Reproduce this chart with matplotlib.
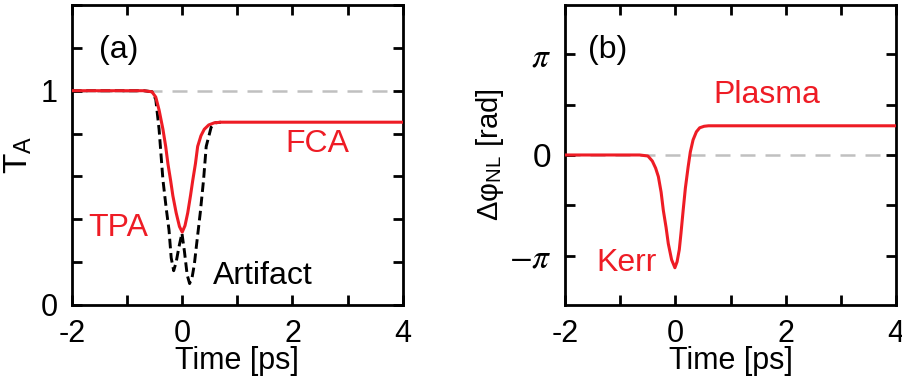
import matplotlib
matplotlib.use("Agg")
import matplotlib.pyplot as plt
from matplotlib.ticker import MultipleLocator

plt.rcParams["font.family"] = ["Liberation Sans", "DejaVu Sans"]
plt.rcParams["mathtext.fontset"] = "stix"

RED = "#ee1c25"
GRAY = "#c0c0c0"

# ==========================
# DATA
# ==========================

# (a) transmission T_A vs time [ps]
ta_time = [-2.0, -0.7, -0.55, -0.48, -0.42, -0.35, -0.30, -0.26, -0.21, -0.17,
           -0.11, -0.05, 0.0, 0.05, 0.10, 0.15, 0.19, 0.24, 0.28, 0.34,
           0.40, 0.48, 0.58, 0.70, 4.0]
ta_red = [1.0, 1.0, 0.995, 0.97, 0.91, 0.82, 0.74, 0.66, 0.58, 0.51,
          0.43, 0.366, 0.34, 0.37, 0.43, 0.51, 0.58, 0.66, 0.74, 0.79,
          0.82, 0.84, 0.85, 0.853, 0.853]

art_time = [-2.0, -0.7, -0.55, -0.48, -0.42, -0.35, -0.29, -0.24, -0.20, -0.155,
            -0.11, -0.06, -0.005, 0.04, 0.09, 0.134, 0.18, 0.22, 0.255, 0.327,
            0.387, 0.435, 0.525, 0.60, 0.70]
art_black = [1.0, 1.0, 0.995, 0.96, 0.82, 0.584, 0.45, 0.35, 0.22, 0.16,
             0.20, 0.27, 0.335, 0.25, 0.14, 0.10, 0.13, 0.19, 0.27, 0.43,
             0.584, 0.74, 0.83, 0.85, 0.853]

# (b) nonlinear phase in units of pi
ph_time = [-2.0, -0.65, -0.5, -0.42, -0.36, -0.31, -0.26, -0.22, -0.17, -0.13,
           -0.07, -0.01, 0.03, 0.07, 0.10, 0.14, 0.18, 0.23, 0.27, 0.32,
           0.38, 0.44, 0.52, 0.60, 4.0]
ph_red = [0.0, 0.0, -0.01, -0.06, -0.13, -0.215, -0.37, -0.55, -0.72, -0.88,
          -1.04, -1.12, -1.06, -0.94, -0.78, -0.55, -0.33, -0.12, 0.03, 0.15,
          0.23, 0.27, 0.285, 0.29, 0.29]

TXT = 23


def style_axes(ax):
    for sp in ax.spines.values():
        sp.set_linewidth(2.0)
    ax.tick_params(which="both", direction="in", top=True, right=True,
                   width=2.0, labelsize=22, pad=10)
    ax.tick_params(which="major", length=7)
    ax.tick_params(which="minor", length=7)
    ax.set_xlim(-2, 4)
    ax.set_xticks([-2, 0, 2, 4])
    ax.set_xticklabels(["-2", "0", "2", "4"])
    ax.xaxis.set_minor_locator(MultipleLocator(1))
    ax.set_xlabel("Time [ps]", fontsize=22, labelpad=-2)


fig = plt.figure(figsize=(9.03, 3.83), dpi=100)
ax1 = fig.add_axes([0.0797, 0.2037, 0.3663, 0.7833])
ax2 = fig.add_axes([0.626, 0.2037, 0.366, 0.7833])

# ---- panel (a)
ax1.axhline(1.0, color=GRAY, lw=1.8, dashes=(6, 4), zorder=1)
ax1.plot(art_time, art_black, color="black", lw=2.1, dashes=(3.3, 1.6), zorder=2)
ax1.plot(ta_time, ta_red, color=RED, lw=2.2, zorder=3)
style_axes(ax1)
ax1.set_ylim(0, 1.4)
ax1.set_yticks([0, 1])
ax1.set_yticklabels(["0", "1"])
ax1.yaxis.set_minor_locator(MultipleLocator(0.2))
ax1.set_ylabel(r"T$_\mathregular{A}$", fontsize=24, labelpad=5)
ax1.text(-1.51, 1.19, "(a)", fontsize=TXT, ha="left", va="center")
ax1.text(-1.71, 0.36, "TPA", color=RED, fontsize=TXT, ha="left", va="center")
ax1.text(1.87, 0.75, "FCA", color=RED, fontsize=TXT, ha="left", va="center")
ax1.text(0.55, 0.135, "Artifact", color="black", fontsize=TXT, ha="left", va="center")

# ---- panel (b)
ax2.axhline(0.0, color=GRAY, lw=1.8, dashes=(6, 4), zorder=1)
ax2.plot(ph_time, ph_red, color=RED, lw=2.2, zorder=3)
style_axes(ax2)
ax2.set_ylim(-1.49, 1.49)
ax2.set_yticks([-1, 0, 1])
ax2.set_yticklabels([r"$-\pi$", "0", r"$\pi$"])
ax2.tick_params(axis="y", labelsize=24)
ax2.yaxis.set_minor_locator(MultipleLocator(0.5))
ax2.set_ylabel("Δφ" + r"$_\mathregular{NL}$" + " [rad]", fontsize=21, labelpad=2)
ax2.text(-1.59, 1.04, "(b)", fontsize=TXT, ha="left", va="center")
ax2.text(0.68, 0.6, "Plasma", color=RED, fontsize=TXT, ha="left", va="center")
ax2.text(-1.43, -1.07, "Kerr", color=RED, fontsize=TXT, ha="left", va="center")

fig.savefig("out.png", dpi=100)
